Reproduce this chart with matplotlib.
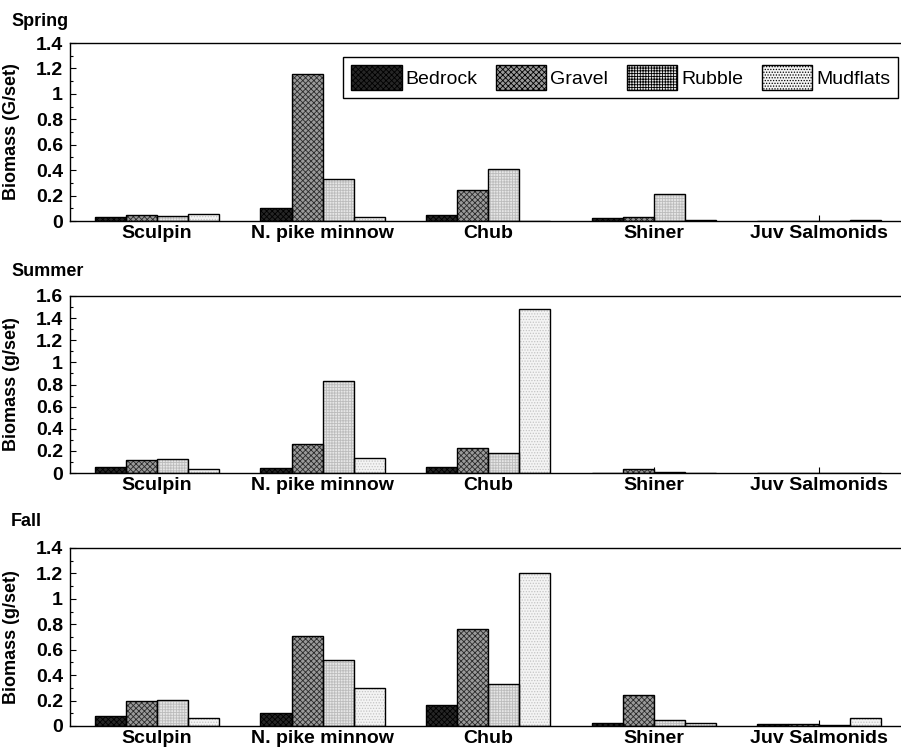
import numpy as np
import matplotlib
matplotlib.use("Agg")
import matplotlib.pyplot as plt
from matplotlib.patches import Patch

plt.rcParams["font.family"] = ["Liberation Sans", "DejaVu Sans"]
plt.rcParams["hatch.linewidth"] = 0.6

species = ["Sculpin", "N. pike minnow", "Chub", "Shiner", "Juv Salmonids"]
habitats = ["Bedrock", "Gravel", "Rubble", "Mudflats"]

# biomass per set, rows = habitat, columns = species
spring = [
    [0.035, 0.10, 0.05, 0.026, 0.0],    # Bedrock
    [0.047, 1.16, 0.24, 0.03, 0.0],     # Gravel
    [0.043, 0.33, 0.41, 0.21, 0.0],     # Rubble
    [0.053, 0.035, 0.0, 0.01, 0.004],   # Mudflats
]
summer = [
    [0.05, 0.043, 0.05, 0.0, 0.0],
    [0.118, 0.263, 0.224, 0.037, 0.004],
    [0.124, 0.828, 0.18, 0.01, 0.0],
    [0.033, 0.133, 1.48, 0.0, 0.0],
]
fall = [
    [0.078, 0.10, 0.165, 0.024, 0.013],
    [0.199, 0.704, 0.761, 0.246, 0.013],
    [0.204, 0.516, 0.327, 0.045, 0.005],
    [0.06, 0.296, 1.20, 0.026, 0.06],
]

seasons = ["Spring", "Summer", "Fall"]
ylabels = ["Biomass (G/set)", "Biomass (g/set)", "Biomass (g/set)"]
ymax = [1.4, 1.6, 1.4]
data = [spring, summer, fall]

# fill, hatch pattern and hatch colour for each habitat
styles = [
    ("#262626", "xxxxxx", "#000000"),
    ("#9a9a9a", "xxxxxx", "#2a2a2a"),
    ("#e6e6e6", "++++++", "#bcbcbc"),
    ("#f4f4f4", "......", "#c4c4c4"),
]

W, H = 901, 751
fig = plt.figure(figsize=(W / 100, H / 100), dpi=100)

# axes boxes in pixels: (top, bottom)
boxes = [(43, 221), (296, 473), (548, 726)]
left_px, right_px = 70, 902
title_y = [21, 272, 521]

x = np.arange(1, len(species) + 1)
bw = 0.1875
offsets = (np.arange(4) - 1.5) * bw

for k, (season, rows) in enumerate(zip(seasons, data)):
    top, bot = boxes[k]
    ax = fig.add_axes([left_px / W, 1 - bot / H, (right_px - left_px) / W, (bot - top) / H])
    for j, vals in enumerate(rows):
        fc, ht, hc = styles[j]
        ax.bar(x + offsets[j], vals, width=bw, color=fc, hatch=ht,
               edgecolor=hc, linewidth=0, zorder=2)
        ax.bar(x + offsets[j], vals, width=bw, facecolor="none",
               edgecolor="black", linewidth=1.0, zorder=3)
    ax.set_xlim(1 - 87 / 165.5, 5.5)
    ax.set_ylim(0, ymax[k])
    ax.set_xticks(x)
    ax.set_xticklabels(species, fontsize=14, fontweight="bold")
    yt = np.round(np.arange(0, ymax[k] + 0.001, 0.2), 1)
    ax.set_yticks(yt)
    ax.set_yticklabels([f"{v:g}" for v in yt], fontsize=14, fontweight="bold")
    ax.set_yticks(np.round(np.arange(0.1, ymax[k], 0.2), 1), minor=True)
    ax.tick_params(axis="both", which="major", direction="in", length=4, width=0.8, pad=3)
    ax.tick_params(axis="y", which="major", pad=5)
    ax.tick_params(axis="y", which="minor", direction="in", length=2.5, width=0.8)
    ax.tick_params(axis="x", which="minor", bottom=False)
    ax.spines["right"].set_visible(False)
    for s in ("left", "top", "bottom"):
        ax.spines[s].set_linewidth(1.0)
    ax.set_ylabel(ylabels[k], fontsize=13, fontweight="bold")
    ax.yaxis.set_label_coords(-50 / (right_px - left_px), 0.5)
    fig.text(11 / W, 1 - title_y[k] / H, season, fontsize=13, fontweight="bold",
             ha="left", va="center")

    if k == 0:
        handles = [Patch(facecolor=styles[j][0], hatch=styles[j][1], edgecolor="black",
                         linewidth=1.0) for j in range(4)]
        leg = ax.legend(handles, habitats, ncol=4, loc="upper right",
                        bbox_to_anchor=((898 - left_px) / (right_px - left_px), 1 - (57 - top) / (bot - top)),
                        fontsize=14, handlelength=2.6, handleheight=1.6,
                        handletextpad=0.2, columnspacing=0.95, borderpad=0.4,
                        borderaxespad=0, fancybox=False, framealpha=1)
        leg.get_frame().set_edgecolor("black")
        leg.get_frame().set_linewidth(1.0)

fig.savefig("out.png", dpi=100)
